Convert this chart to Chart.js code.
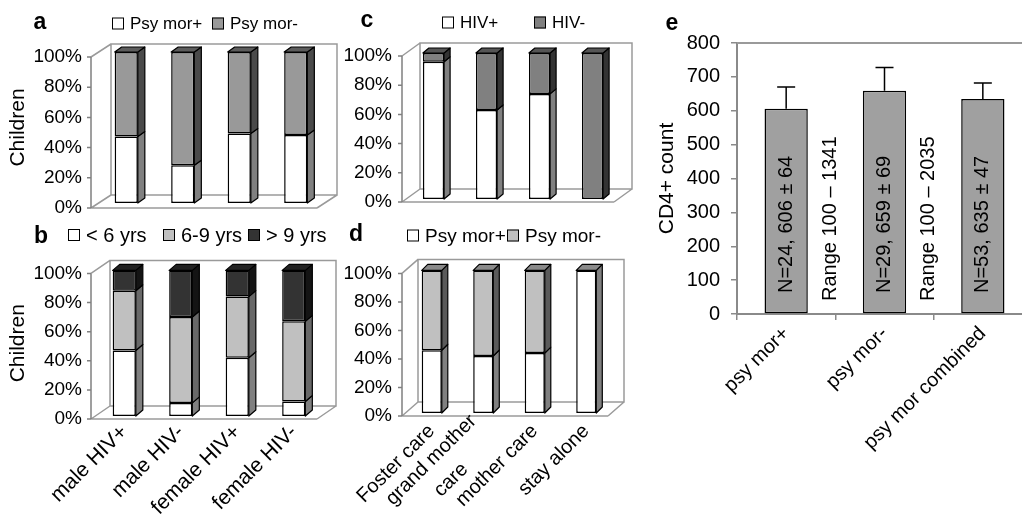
<!DOCTYPE html>
<html>
<head>
<meta charset="utf-8">
<script src="https://cdn.jsdelivr.net/npm/chart.js@4.4.1/dist/chart.umd.min.js"></script>
<style>
  html, body { margin: 0; padding: 0; background: #fff; overflow: hidden; width: 1022px; height: 528px; }
  body { position: relative; font-family: 'Liberation Sans', Arial, sans-serif; color: #000; }
  canvas { position: absolute; }
  .tag { position: absolute; font-weight: bold; font-size: 23px; line-height: 1; transform: translate(-50%, -50%); }
  .leg { position: absolute; display: flex; align-items: center; gap: 6px; line-height: 1; white-space: nowrap; transform: translateY(-50%); }
  .leg .box { width: 10px; height: 10px; border: 1px solid #000; }
</style>
</head>
<body>
<canvas id="chartA" width="345" height="233" style="left:0;top:0"></canvas>
<canvas id="chartB" width="345" height="283" style="left:0;top:245px"></canvas>
<canvas id="chartC" width="295" height="229" style="left:340px;top:0"></canvas>
<canvas id="chartD" width="295" height="283" style="left:340px;top:245px"></canvas>
<canvas id="chartE" width="410" height="528" style="left:640px;top:0"></canvas>
<div class="tag" style="left:40px;top:21px">a</div>
<div class="tag" style="left:41px;top:235px">b</div>
<div class="tag" style="left:367px;top:19px">c</div>
<div class="tag" style="left:356px;top:233px">d</div>
<div class="tag" style="left:672px;top:22px">e</div>
<script>
// categories
const groupLabels = ['male HIV+', 'male HIV-', 'female HIV+', 'female HIV-'];
const careLabels = ['Foster care', ['grand mother', 'care'], 'mother care', 'stay alone'];
const pctTicks = [0, 20, 40, 60, 80, 100];

// a: psychological morbidity by group (%)
const aPsyPos = [44, 25, 46, 45];
const aPsyNeg = [56, 75, 54, 55];
// b: age groups (%)
const bUnder6 = [45, 9, 40, 10];
const b6to9 = [41, 59, 42, 55];
const bOver9 = [14, 32, 18, 35];
// c: HIV status by care (%)
const cHivPos = [94, 61, 72, 0];
const cHivNeg = [6, 39, 28, 100];
// d: psychological morbidity by care (%)
const dPsyPos = [44, 40, 42, 100];
const dPsyNeg = [56, 60, 58, 0];

// e: CD4+ count
const eLabels = ['psy mor+', 'psy mor-', 'psy mor combined'];
const eMeans = [606, 659, 635];
const eErrors = [64, 69, 47];
const eTicks = [0, 100, 200, 300, 400, 500, 600, 700, 800];
const eNotes = ['N=24, 606 ± 64', 'N=29, 659 ± 69', 'N=53, 635 ± 47'];
const eRanges = ['Range 100 – 1341', 'Range 100 – 2035'];

Chart.defaults.font.family = "'Liberation Sans', Arial, sans-serif";
Chart.defaults.color = '#000';

// pseudo 3D walls, floor and bar faces
const box3d = {
  id: 'box3d',
  beforeDatasetsDraw(chart, args, o) {
    const { ctx, chartArea: a } = chart;
    const f = o.front, b = o.back;
    ctx.save();
    ctx.strokeStyle = '#9a9a9a';
    ctx.lineWidth = 1.5;
    ctx.beginPath();
    ctx.rect(a.left + b[0], a.top + b[1], a.right - a.left, a.bottom - a.top);
    ctx.moveTo(a.left + f[0], a.top + f[1]); ctx.lineTo(a.left + b[0], a.top + b[1]);
    ctx.moveTo(a.left + f[0], a.bottom + f[1]); ctx.lineTo(a.left + b[0], a.bottom + b[1]);
    ctx.moveTo(a.right + f[0], a.bottom + f[1]); ctx.lineTo(a.right + b[0], a.bottom + b[1]);
    ctx.moveTo(a.left + f[0], a.bottom + f[1]); ctx.lineTo(a.right + f[0], a.bottom + f[1]);
    ctx.stroke();
    ctx.strokeStyle = '#808080';
    ctx.beginPath();
    ctx.moveTo(a.left + f[0], a.top + f[1]); ctx.lineTo(a.left + f[0], a.bottom + f[1]);
    chart.scales.y.ticks.forEach((t, i) => {
      const y = chart.scales.y.getPixelForTick(i) + f[1];
      ctx.moveTo(a.left + f[0] - 4, y); ctx.lineTo(a.left + f[0], y);
    });
    ctx.stroke();
    ctx.restore();
  },
  afterDatasetsDraw(chart, args, o) {
    const { ctx } = chart;
    const [dx, dy] = o.depth;
    const sets = chart.data.datasets;
    const face = (pts, color) => {
      ctx.beginPath();
      pts.forEach((p, k) => k ? ctx.lineTo(p[0], p[1]) : ctx.moveTo(p[0], p[1]));
      ctx.closePath();
      ctx.fillStyle = color;
      ctx.fill();
      ctx.stroke();
    };
    ctx.save();
    ctx.strokeStyle = '#000';
    ctx.lineWidth = 1.2;
    ctx.lineJoin = 'round';
    chart.data.labels.forEach((lab, i) => {
      let topSet = -1;
      sets.forEach((ds, di) => { if (ds.data[i] > 0) topSet = di; });
      sets.forEach((ds, di) => {
        if (!(ds.data[i] > 0)) return;
        const bar = chart.getDatasetMeta(di).data[i];
        const { x, y, base, width } = bar.getProps(['x', 'y', 'base', 'width'], true);
        const l = x - width / 2, r = x + width / 2;
        const top = Math.min(y, base), bot = Math.max(y, base);
        face([[r, top], [r + dx, top - dy], [r + dx, bot - dy], [r, bot]], ds.sideColor);
        if (di === topSet) {
          face([[l, top], [l + dx, top - dy], [r + dx, top - dy], [r, top]], ds.topColor);
        }
      });
    });
    ctx.restore();
  }
};

// rotated category labels, multi-line ones centred like the original
const centredTicks = {
  id: 'centredTicks',
  afterDraw(chart, args, o) {
    if (!o.size) return;
    const { ctx, scales: { x } } = chart;
    const lh = o.size * o.lineHeight;
    ctx.save();
    ctx.font = o.size + "px 'Liberation Sans', Arial, sans-serif";
    ctx.fillStyle = '#000';
    ctx.textAlign = 'center';
    ctx.textBaseline = 'middle';
    chart.data.labels.forEach((lab, i) => {
      const lines = [].concat(lab);
      const w = Math.max(...lines.map(t => ctx.measureText(t).width));
      ctx.save();
      ctx.translate(x.getPixelForTick(i) + o.dx, x.top + o.dy);
      ctx.rotate(-Math.PI / 4);
      lines.forEach((t, k) => ctx.fillText(t, -w / 2, (k - (lines.length - 1) / 2) * lh));
      ctx.restore();
    });
    ctx.restore();
  }
};

function stacked3d(id, labels, datasets, o) {
  return new Chart(document.getElementById(id), {
    type: 'bar',
    data: {
      labels: labels,
      datasets: datasets.map(d => Object.assign({
        borderColor: '#000', borderWidth: 1.5, borderSkipped: false,
        categoryPercentage: 1, barPercentage: o.barPct
      }, d))
    },
    options: {
      responsive: false,
      animation: false,
      events: [],
      layout: { padding: o.pad },
      plugins: {
        legend: { display: false },
        tooltip: { enabled: false },
        box3d: o.box,
        centredTicks: o.centred || {}
      },
      scales: {
        x: {
          stacked: true,
          display: o.showX,
          grid: { display: false, drawTicks: false },
          border: { display: false },
          ticks: {
            display: !o.centred, autoSkip: false, minRotation: 45, maxRotation: 45,
            padding: o.xPad || 0, font: { size: 21 }, color: '#000'
          },
          afterFit: s => { s.height = o.xHeight || 0; }
        },
        y: {
          stacked: true,
          min: 0, max: 100,
          grid: { display: false, drawTicks: false },
          border: { display: false },
          afterBuildTicks: s => { s.ticks = pctTicks.map(v => ({ value: v })); },
          ticks: { padding: o.yPad, labelOffset: o.box.front[1], callback: v => v + '%', font: { size: 19 }, color: '#000' },
          title: { display: !!o.yTitle, text: o.yTitle || '', font: { size: 21 }, color: '#000', padding: { top: 6, bottom: 0 } },
          afterFit: s => { s.width = o.yWidth; }
        }
      }
    },
    plugins: [box3d, centredTicks]
  });
}

function addLegend(chart, xs, y, size) {
  chart.data.datasets.forEach((ds, i) => {
    const item = document.createElement('div');
    item.className = 'leg';
    item.style.left = xs[i] + 'px';
    item.style.top = y + 'px';
    item.style.fontSize = size + 'px';
    const box = document.createElement('span');
    box.className = 'box';
    box.style.background = ds.backgroundColor;
    const txt = document.createElement('span');
    txt.textContent = ds.label;
    item.appendChild(box);
    item.appendChild(txt);
    document.body.appendChild(item);
  });
}

const chartA = stacked3d('chartA', groupLabels, [
  { label: 'Psy mor+', data: aPsyPos, backgroundColor: '#ffffff', sideColor: '#808080', topColor: '#707070' },
  { label: 'Psy mor-', data: aPsyNeg, backgroundColor: '#999999', sideColor: '#4a4a4a', topColor: '#5c5c5c' }
], {
  barPct: 0.41, showX: false, yWidth: 98, yPad: 16, yTitle: 'Children',
  pad: { left: 0, top: 52, right: 21, bottom: 30 },
  box: { front: [-7, 5], back: [13, -8], depth: [7, 5] }
});

const chartB = stacked3d('chartB', groupLabels, [
  { label: '< 6 yrs', data: bUnder6, backgroundColor: '#ffffff', sideColor: '#808080', topColor: '#707070' },
  { label: '6-9 yrs', data: b6to9, backgroundColor: '#c0c0c0', sideColor: '#686868', topColor: '#777777' },
  { label: '> 9 yrs', data: bOver9, backgroundColor: '#333333', sideColor: '#141414', topColor: '#222222' }
], {
  barPct: 0.41, showX: true, xHeight: 112, xPad: 4, yWidth: 96, yPad: 14, yTitle: 'Children',
  pad: { left: 0, top: 22, right: 23, bottom: 0 },
  box: { front: [-5, 3], back: [14, -10], depth: [7, 6] }
});

const chartC = stacked3d('chartC', careLabels, [
  { label: 'HIV+', data: cHivPos, backgroundColor: '#ffffff', sideColor: '#808080', topColor: '#707070' },
  { label: 'HIV-', data: cHivNeg, backgroundColor: '#808080', sideColor: '#333333', topColor: '#555555' }
], {
  barPct: 0.40, showX: false, yWidth: 67, yPad: 15,
  pad: { left: 0, top: 53, right: 16, bottom: 30 },
  box: { front: [-5, 3], back: [13, -10], depth: [6, 5] }
});

const chartD = stacked3d('chartD', careLabels, [
  { label: 'Psy mor+', data: dPsyPos, backgroundColor: '#ffffff', sideColor: '#808080', topColor: '#8a8a8a' },
  { label: 'Psy mor-', data: dPsyNeg, backgroundColor: '#c0c0c0', sideColor: '#5a5a5a', topColor: '#8a8a8a' }
], {
  barPct: 0.39, showX: true, xHeight: 115, yWidth: 66, yPad: 14,
  centred: { size: 20, lineHeight: 1.4, dx: 0, dy: 15 },
  pad: { left: 0, top: 21, right: 23, bottom: 0 },
  box: { front: [-4, 3], back: [12, -11], depth: [6, 6] }
});

addLegend(chartA, [112, 212], 23, 17);
addLegend(chartB, [68, 163, 248], 235, 20);
addLegend(chartC, [442, 534], 22, 17);
addLegend(chartD, [407, 507], 235, 19);

// e: frame, error bars and notes
const eDecor = {
  id: 'eDecor',
  beforeDatasetsDraw(chart) {
    const { ctx, chartArea: a } = chart;
    ctx.save();
    ctx.strokeStyle = '#9a9a9a';
    ctx.lineWidth = 2;
    ctx.beginPath();
    ctx.moveTo(a.left, a.top); ctx.lineTo(a.right, a.top); ctx.lineTo(a.right, a.bottom);
    ctx.stroke();
    ctx.restore();
  },
  afterDatasetsDraw(chart) {
    const { ctx, scales: { y } } = chart;
    const bars = chart.getDatasetMeta(0).data;
    const base = y.getPixelForValue(0);
    ctx.save();
    ctx.strokeStyle = '#000';
    ctx.lineWidth = 1.5;
    bars.forEach((bar, i) => {
      const top = y.getPixelForValue(eMeans[i] + eErrors[i]);
      ctx.beginPath();
      ctx.moveTo(bar.x, bar.y); ctx.lineTo(bar.x, top);
      ctx.moveTo(bar.x - 9, top); ctx.lineTo(bar.x + 9, top);
      ctx.stroke();
    });
    ctx.fillStyle = '#000';
    ctx.font = "20px 'Liberation Sans', Arial, sans-serif";
    ctx.textAlign = 'left';
    ctx.textBaseline = 'middle';
    const vtext = (t, x, y0) => {
      ctx.save();
      ctx.translate(x, y0);
      ctx.rotate(-Math.PI / 2);
      ctx.fillText(t, 0, 0);
      ctx.restore();
    };
    bars.forEach((bar, i) => vtext(eNotes[i], bar.x, base - 21));
    eRanges.forEach((t, i) => vtext(t, (bars[i].x + bars[i + 1].x) / 2 - 5, base - 13));
    ctx.restore();
  }
};

new Chart(document.getElementById('chartE'), {
  type: 'bar',
  data: {
    labels: eLabels,
    datasets: [{
      data: eMeans,
      backgroundColor: '#a0a0a0',
      borderColor: '#000',
      borderWidth: 1.5,
      borderSkipped: false,
      categoryPercentage: 1,
      barPercentage: 0.44
    }]
  },
  options: {
    responsive: false,
    animation: false,
    events: [],
    layout: { padding: { left: 0, top: 43, right: 18, bottom: 0 } },
    plugins: { legend: { display: false }, tooltip: { enabled: false } },
    scales: {
      x: {
        grid: { offset: true, drawOnChartArea: false, tickLength: 6, color: '#8a8a8a', lineWidth: 1.5 },
        border: { color: '#8a8a8a', width: 2 },
        ticks: { autoSkip: false, minRotation: 45, maxRotation: 45, padding: 2, font: { size: 20 }, color: '#000' },
        afterFit: s => { s.height = 214; }
      },
      y: {
        min: 0, max: 800,
        grid: { drawOnChartArea: false, tickLength: 6, color: '#8a8a8a', lineWidth: 1.5 },
        border: { color: '#8a8a8a', width: 2 },
        afterBuildTicks: s => { s.ticks = eTicks.map(v => ({ value: v })); },
        ticks: { padding: 11, font: { size: 20 }, color: '#000' },
        title: { display: true, text: 'CD4+ count', font: { size: 21 }, color: '#000', padding: { top: 15, bottom: 0 } },
        afterFit: s => { s.width = 97; }
      }
    }
  },
  plugins: [eDecor]
});
</script>
</body>
</html>
